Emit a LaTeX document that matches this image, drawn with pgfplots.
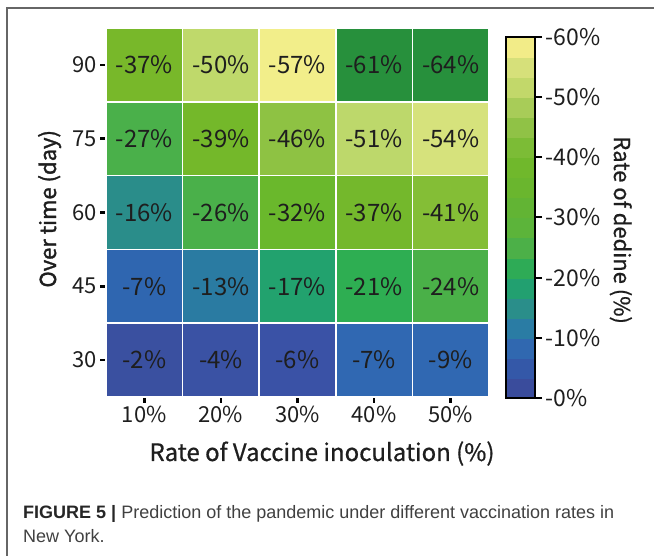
\documentclass[border=0pt]{standalone}
\usepackage{pgfplots}
\pgfplotsset{compat=1.18}
\usepackage{fontspec}
\setmainfont{Noto Sans CJK SC}
\newfontfamily\labfont{Noto Sans CJK SC}[FakeBold=0.7]
\newfontfamily\ylabfont{Noto Sans CJK SC}[FakeBold=1.4]
\newfontfamily\capfont{Liberation Sans}
% cell colours (row, column)
\definecolor{aa}{HTML}{78B82A}\definecolor{ab}{HTML}{BFD96B}\definecolor{ac}{HTML}{F2EE8A}\definecolor{ad}{HTML}{27903C}\definecolor{ae}{HTML}{27903C}
\definecolor{ba}{HTML}{4AB04A}\definecolor{bb}{HTML}{74B82A}\definecolor{bc}{HTML}{8EC243}\definecolor{bd}{HTML}{BDD86B}\definecolor{be}{HTML}{D6E27C}
\definecolor{ca}{HTML}{2A8D8A}\definecolor{cb}{HTML}{4AB04A}\definecolor{cc}{HTML}{6AB82C}\definecolor{cd}{HTML}{74B82C}\definecolor{ce}{HTML}{84BE36}
\definecolor{da}{HTML}{2F66B0}\definecolor{db}{HTML}{2A7BA2}\definecolor{dc}{HTML}{22A26E}\definecolor{dd}{HTML}{2EAE52}\definecolor{de}{HTML}{4AB048}
\definecolor{ea}{HTML}{3A50A0}\definecolor{eb}{HTML}{3A52A4}\definecolor{ec}{HTML}{3A52A6}\definecolor{ed}{HTML}{3068B2}\definecolor{ee}{HTML}{3068B2}
% colourbar bands, bottom to top
\definecolor{k1}{HTML}{3A4C9C}\definecolor{k2}{HTML}{3458A8}\definecolor{k3}{HTML}{3068B0}
\definecolor{k4}{HTML}{2A7CA4}\definecolor{k5}{HTML}{2A8E8A}\definecolor{k6}{HTML}{22A070}
\definecolor{k7}{HTML}{2EAB56}\definecolor{k8}{HTML}{4CB048}\definecolor{k9}{HTML}{5CB43A}
\definecolor{k10}{HTML}{62B434}\definecolor{k11}{HTML}{6AB62E}\definecolor{k12}{HTML}{70B82C}
\definecolor{k13}{HTML}{7CBC36}\definecolor{k14}{HTML}{90C246}\definecolor{k15}{HTML}{A8CC58}
\definecolor{k16}{HTML}{C2D86A}\definecolor{k17}{HTML}{D6E07A}\definecolor{k18}{HTML}{F2EC88}
\definecolor{txt}{HTML}{1E1E1E}
\newcommand{\cell}[5]{\addplot[fill=#5, draw=white, line width=1.6pt] coordinates {(#1,#3) (#2,#3) (#2,#4) (#1,#4)} -- cycle;}
\newcommand{\band}[3]{\addplot[fill=#3, draw=#3, line width=0.2pt] coordinates {(0,#1) (1,#1) (1,#2) (0,#2)} -- cycle;}
\begin{document}
\begin{tikzpicture}
\path[use as bounding box] (0,0) rectangle (654pt,556pt);
\draw[black!60, line width=1.4pt] (7pt,0) -- (7pt,548pt) -- (654pt,548pt);
\begin{axis}[
  at={(106pt,159pt)}, anchor=south west,
  width=383pt, height=369pt, scale only axis,
  xmin=-0.5, xmax=4.5, ymin=-0.5, ymax=4.5,
  axis line style={draw=none},
  clip=false,
  xtick={0,1,2,3,4}, xticklabels={10\%,20\%,30\%,40\%,50\%},
  ytick={0,1,2,3,4}, yticklabels={30,45,60,75,90},
  tick pos=left, tick align=outside, major tick length=6pt,
  tick style={black, line width=2.5pt},
  ticklabel style={font=\fontsize{22}{26}\selectfont, text=txt},
  xlabel={Rate of Vaccine inoculation (\%)},
  ylabel={Over time (day)},
  every axis x label/.style={at={(axis description cs:0.564,0)}, anchor=base, yshift=-64pt, font=\labfont\fontsize{24}{28}\selectfont, text=txt},
  every axis y label/.style={at={(axis description cs:-0.1305,0.51)}, rotate=90, anchor=base, font=\ylabfont\fontsize{22}{26}\selectfont, text=txt},
]
\cell{-0.5}{0.5}{3.5}{4.5}{aa}\cell{0.5}{1.5}{3.5}{4.5}{ab}\cell{1.5}{2.5}{3.5}{4.5}{ac}\cell{2.5}{3.5}{3.5}{4.5}{ad}\cell{3.5}{4.5}{3.5}{4.5}{ae}
\cell{-0.5}{0.5}{2.5}{3.5}{ba}\cell{0.5}{1.5}{2.5}{3.5}{bb}\cell{1.5}{2.5}{2.5}{3.5}{bc}\cell{2.5}{3.5}{2.5}{3.5}{bd}\cell{3.5}{4.5}{2.5}{3.5}{be}
\cell{-0.5}{0.5}{1.5}{2.5}{ca}\cell{0.5}{1.5}{1.5}{2.5}{cb}\cell{1.5}{2.5}{1.5}{2.5}{cc}\cell{2.5}{3.5}{1.5}{2.5}{cd}\cell{3.5}{4.5}{1.5}{2.5}{ce}
\cell{-0.5}{0.5}{0.5}{1.5}{da}\cell{0.5}{1.5}{0.5}{1.5}{db}\cell{1.5}{2.5}{0.5}{1.5}{dc}\cell{2.5}{3.5}{0.5}{1.5}{dd}\cell{3.5}{4.5}{0.5}{1.5}{de}
\cell{-0.5}{0.5}{-0.5}{0.5}{ea}\cell{0.5}{1.5}{-0.5}{0.5}{eb}\cell{1.5}{2.5}{-0.5}{0.5}{ec}\cell{2.5}{3.5}{-0.5}{0.5}{ed}\cell{3.5}{4.5}{-0.5}{0.5}{ee}
\addplot[draw=none, mark=none, point meta=explicit symbolic,
  nodes near coords={-\pgfplotspointmeta\%},
  every node near coord/.append style={anchor=center, font=\fontsize{24}{28}\selectfont, text=txt}]
  table[meta=v] {
x y v
0 4 37
1 4 50
2 4 57
3 4 61
4 4 64
0 3 27
1 3 39
2 3 46
3 3 51
4 3 54
0 2 16
1 2 26
2 2 32
3 2 37
4 2 41
0 1 7
1 1 13
2 1 17
3 1 21
4 1 24
0 0 2
1 0 4
2 0 6
3 0 7
4 0 9
};
\end{axis}
\begin{axis}[
  at={(506pt,158pt)}, anchor=south west,
  width=29pt, height=361pt, scale only axis,
  xmin=0, xmax=1, ymin=0, ymax=60,
  axis on top,
  axis line style={black, line width=2pt},
  xtick=\empty,
  ytick={0,10,20,30,40,50,60},
  yticklabels={-0\%,-10\%,-20\%,-30\%,-40\%,-50\%,-60\%},
  ytick pos=right, yticklabel pos=right,
  tick align=outside, major tick length=7pt,
  tick style={black, line width=2pt},
  ticklabel style={font=\fontsize{23}{27}\selectfont, text=txt},
  ylabel={Rate of dedine (\%)},
  every axis y label/.style={at={(axis description cs:3.724,0.465)}, rotate=-90, anchor=base, font=\labfont\fontsize{22}{26}\selectfont, text=txt},
]
\band{0}{3.3333}{k1}\band{3.3333}{6.6667}{k2}\band{6.6667}{10}{k3}
\band{10}{13.3333}{k4}\band{13.3333}{16.6667}{k5}\band{16.6667}{20}{k6}
\band{20}{23.3333}{k7}\band{23.3333}{26.6667}{k8}\band{26.6667}{30}{k9}
\band{30}{33.3333}{k10}\band{33.3333}{36.6667}{k11}\band{36.6667}{40}{k12}
\band{40}{43.3333}{k13}\band{43.3333}{46.6667}{k14}\band{46.6667}{50}{k15}
\band{50}{53.3333}{k16}\band{53.3333}{56.6667}{k17}\band{56.6667}{60}{k18}
\end{axis}
\node[anchor=base west, inner sep=0pt, font=\capfont\fontsize{18}{22}\selectfont, text=black!75] at (23pt,37pt) {{\bfseries\color{black!85}FIGURE 5 |} Prediction of the pandemic under different vaccination rates in};
\node[anchor=base west, inner sep=0pt, font=\capfont\fontsize{18}{22}\selectfont, text=black!75] at (23pt,13pt) {New York.};
\end{tikzpicture}
\end{document}
